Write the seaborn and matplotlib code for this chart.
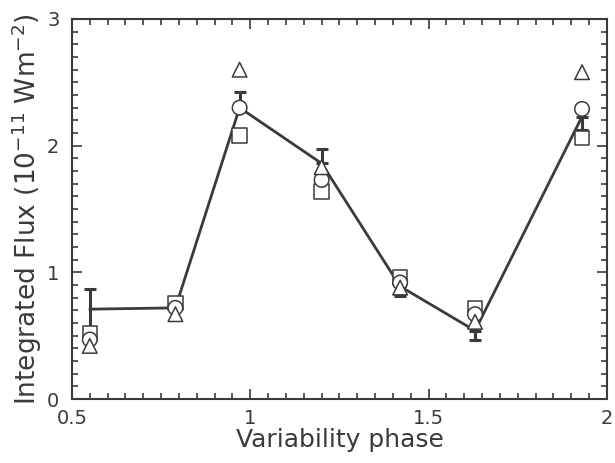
import matplotlib
matplotlib.use("Agg")
import matplotlib.pyplot as plt
import seaborn as sns
import pandas as pd
import numpy as np

# Data
phase = [0.55, 0.79, 0.97, 1.20, 1.42, 1.63, 1.93]
mean_flux = [0.71, 0.72, 2.30, 1.86, 0.89, 0.54, 2.23]
err_low = [0.16, 0.0, 0.0, 0.0, 0.08, 0.07, 0.11]
err_high = [0.16, 0.0, 0.12, 0.11, 0.0, 0.0, 0.0]
flux_square = [0.52, 0.76, 2.08, 1.64, 0.96, 0.72, 2.06]
flux_circle = [0.47, 0.72, 2.30, 1.73, 0.92, 0.67, 2.29]
flux_triangle = [0.42, 0.67, 2.60, 1.83, 0.88, 0.61, 2.58]

xticks = [0.5, 1, 1.5, 2]
xticklabels = ["0.5", "1", "1.5", "2"]
yticks = [0, 1, 2, 3]
yticklabels = ["0", "1", "2", "3"]

ink = "#3a3a3a"
sns.set_theme(style="white")
plt.rcParams['font.family'] = ['DejaVu Sans']

fig = plt.figure(figsize=(6.15, 4.63), dpi=100)
ax = fig.add_axes([0.117, 0.138, 0.870, 0.821])

df_line = pd.DataFrame({"phase": phase, "flux": mean_flux})
ax.errorbar(phase, mean_flux, yerr=[err_low, err_high], fmt="none",
            ecolor=ink, elinewidth=2.2, capsize=4, capthick=2.2, zorder=1)
sns.lineplot(data=df_line, x="phase", y="flux", color=ink, linewidth=2,
             ax=ax, zorder=2)

df_pts = pd.DataFrame({
    "phase": phase * 3,
    "flux": flux_square + flux_circle + flux_triangle,
    "kind": ["square"] * 7 + ["circle"] * 7 + ["triangle"] * 7,
})
sns.scatterplot(data=df_pts, x="phase", y="flux", style="kind",
                markers={"square": "s", "circle": "o", "triangle": "^"},
                s=110, facecolor="white", edgecolor=ink, linewidth=1.1,
                legend=False, ax=ax, zorder=3)

ax.set_xlim(0.5, 2)
ax.set_ylim(0, 3)
ax.set_xticks(xticks)
ax.set_xticklabels(xticklabels)
ax.set_yticks(yticks)
ax.set_yticklabels(yticklabels)
ax.set_xticks(np.arange(0.5, 2.0001, 0.05), minor=True)
ax.set_yticks(np.arange(0, 3.0001, 0.1), minor=True)
ax.tick_params(which="both", direction="in", top=True, right=True,
               bottom=True, left=True, color=ink, labelcolor=ink,
               labelsize=14, width=1.2)
ax.tick_params(which="major", length=7)
ax.tick_params(which="minor", length=4)
ax.tick_params(axis="x", which="major", pad=7)
ax.tick_params(axis="y", which="major", pad=9)
for s in ax.spines.values():
    s.set_color(ink)
    s.set_linewidth(1.5)

ax.set_xlabel("Variability phase", fontsize=18, color=ink, labelpad=0)
ax.set_ylabel("Integrated Flux (10$^{-11}$ Wm$^{-2}$)", fontsize=19,
              color=ink, labelpad=2)

fig.savefig("out.png", dpi=100)
